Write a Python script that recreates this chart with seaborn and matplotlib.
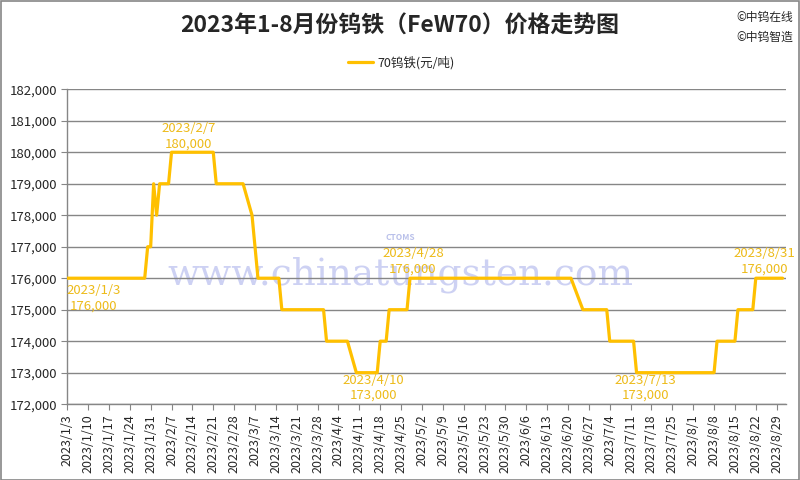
import pandas as pd
import numpy as np
import matplotlib
matplotlib.use("Agg")
import matplotlib.pyplot as plt
from matplotlib.patches import Rectangle
import seaborn as sns

# price change points (元/吨)
dates = ["2023-01-03", "2023-01-29", "2023-01-30", "2023-01-31", "2023-02-01",
         "2023-02-02", "2023-02-03", "2023-02-06", "2023-02-07", "2023-02-21",
         "2023-02-22", "2023-03-03", "2023-03-06", "2023-03-08", "2023-03-15",
         "2023-03-16", "2023-03-30", "2023-03-31", "2023-04-07", "2023-04-10",
         "2023-04-17", "2023-04-18", "2023-04-20", "2023-04-21", "2023-04-27",
         "2023-04-28", "2023-06-21", "2023-06-25", "2023-07-03", "2023-07-04",
         "2023-07-12", "2023-07-13", "2023-08-08", "2023-08-09", "2023-08-15",
         "2023-08-16", "2023-08-21", "2023-08-22", "2023-08-31"]
prices = [176000, 176000, 177000, 177000, 179000,
          178000, 179000, 179000, 180000, 180000,
          179000, 179000, 178000, 176000, 176000,
          175000, 175000, 174000, 174000, 173000,
          173000, 174000, 174000, 175000, 175000,
          176000, 176000, 175000, 175000, 174000,
          174000, 173000, 173000, 174000, 174000,
          175000, 175000, 176000, 176000]

# labelled points: date, value, offset in pixels
note_dates = ["2023-01-03", "2023-02-07", "2023-04-10", "2023-04-28", "2023-07-13", "2023-08-31"]
note_values = [176000, 180000, 173000, 176000, 173000, 176000]
note_offsets = [(26, -20), (17, 16), (17, -15), (3, 17), (9, -15), (-18, 17)]

df = pd.DataFrame({"date": pd.to_datetime(dates), "price": prices})

sns.set_style("white")
plt.rcParams["font.family"] = ["Noto Sans CJK SC", "DejaVu Sans"]

gold = "#FFC000"
label_gold = "#EDBB1A"
grey = "#868686"

fig = plt.figure(figsize=(8, 4.8), dpi=100)
ax = fig.add_axes([0.084, 0.158, 0.898, 0.656])

# faint site watermark
ax.text(0.464, 0.41, "www.chinatungsten.com", transform=ax.transAxes,
        ha="center", va="center", fontsize=27, color="#cdd1f3",
        family=["DejaVu Serif"], zorder=0)
ax.text(0.464, 0.53, "CTOMS", transform=ax.transAxes, ha="center", va="center",
        fontsize=6, color="#b9c0ea", fontweight="bold", style="italic", zorder=0)

sns.lineplot(data=df, x="date", y="price", ax=ax, color=gold, linewidth=2.3,
             label="70钨铁(元/吨)", zorder=3)

ax.set_ylim(172000, 182000)
ax.set_yticks(np.arange(172000, 182001, 1000))
ax.yaxis.set_major_formatter(plt.FuncFormatter(lambda v, p: f"{v:,.0f}"))
ax.grid(axis="y", color=grey, linewidth=1)
ax.set_axisbelow(True)

start = pd.Timestamp("2023-01-03")
ax.set_xlim(start, pd.Timestamp("2023-09-01"))
ticks = pd.date_range(start, "2023-08-29", freq="7D")
ax.set_xticks(ticks)
ax.set_xticklabels([f"{t.year}/{t.month}/{t.day}" for t in ticks], rotation=90)
ax.tick_params(axis="x", labelsize=9, length=4, color=grey, direction="out", bottom=True)
ax.tick_params(axis="y", labelsize=9.5, length=4, color=grey, direction="out", left=True)
ax.set_xlabel("")
ax.set_ylabel("")

for s in ["top", "right"]:
    ax.spines[s].set_visible(False)
for s in ["left", "bottom"]:
    ax.spines[s].set_color(grey)
    ax.spines[s].set_linewidth(1)

for d, v, off in zip(note_dates, note_values, note_offsets):
    ax.annotate(f"{d[:4]}/{int(d[5:7])}/{int(d[8:])}\n{v:,}", xy=(pd.Timestamp(d), v),
                xytext=off, textcoords="offset pixels", ha="center", va="center",
                fontsize=9.5, color=label_gold, zorder=4)

ax.legend(loc="center", bbox_to_anchor=(0.465, 1.085), frameon=False, fontsize=9,
          handlelength=2.0, handletextpad=0.3)

fig.text(0.5, 0.945, "2023年1-8月份钨铁（FeW70）价格走势图", ha="center", va="center",
         fontsize=16.5, fontweight="bold")
fig.text(0.92, 0.963, "©中钨在线", ha="left", va="center", fontsize=8.5)
fig.text(0.92, 0.923, "©中钨智造", ha="left", va="center", fontsize=8.5)

fig.patches.append(Rectangle((0.001, 0.001), 0.998, 0.997, transform=fig.transFigure,
                             fill=False, edgecolor=grey, linewidth=1.2))

fig.savefig("out.png", dpi=100)
